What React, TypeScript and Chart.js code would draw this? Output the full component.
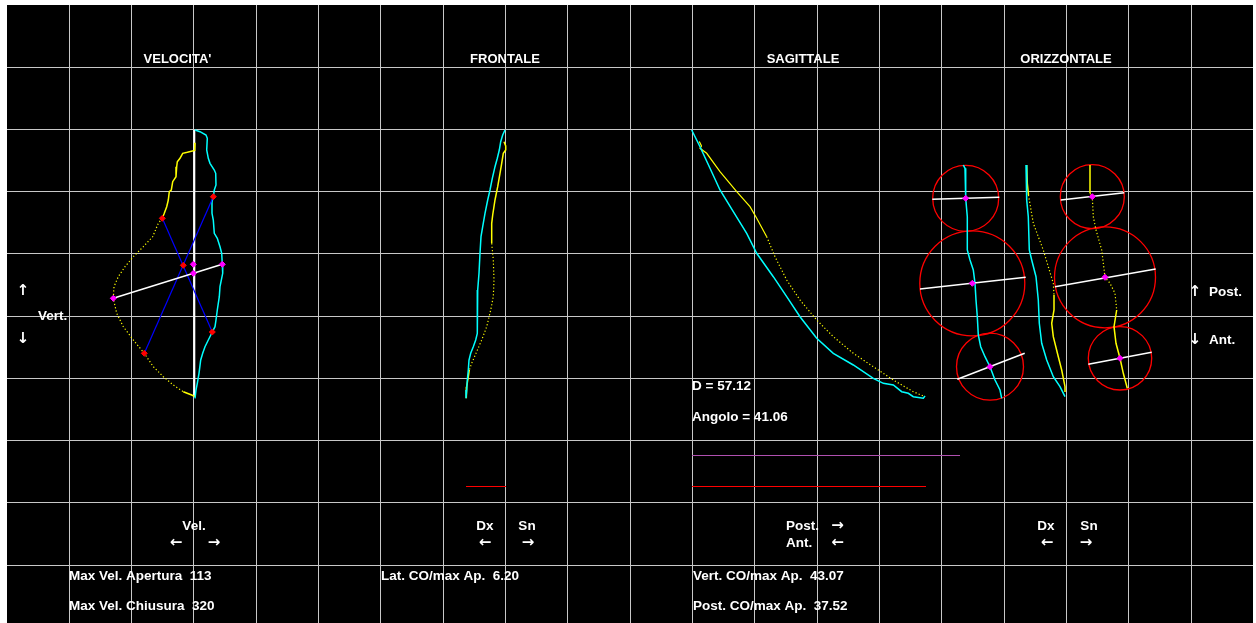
import React, { useEffect, useRef } from "react";
import { Chart, registerables } from "chart.js";

Chart.register(...registerables);

type P = [number, number];

// grid (screen units of the original plot)
const GRID_X = [69.33, 131.66, 193.99, 256.32, 318.65, 380.98, 443.31, 505.64, 567.97, 630.3, 692.63, 754.96, 817.29, 879.62, 941.95, 1004.28, 1066.61, 1128.94, 1191.27];
const GRID_Y = [67, 129.25, 191.5, 253.75, 316, 378.25, 440.5, 502.75, 565];

// ---- VELOCITA' panel ----
const VEL_AXIS: P[] = [[194.3, 130], [194.3, 397]];
const VEL_CYAN: P[] = [[195, 130], [200, 131.7], [206, 135], [207.3, 138.3], [206.7, 150], [208.3, 158.3], [210, 163.3], [214.3, 170], [215.7, 173.3], [216, 185], [214.3, 190], [213.3, 196.7], [212, 201.7], [212, 213.3], [213.3, 220], [214.3, 233.3], [217.3, 238.3], [220, 246.7], [221.7, 253.3], [222.3, 264.3], [222.7, 273.3], [220, 286.7], [219.3, 296.7], [217.3, 310], [216, 320], [215, 326.7], [212.3, 332], [208.3, 340], [205, 346.7], [202.7, 353.3], [200.7, 360], [199, 373.3], [197.3, 383.3], [196, 390], [195, 398.3]];
const VEL_YELLOW_SOLID: P[] = [[195, 142.7], [194.7, 150.5], [187.3, 152.3], [182.7, 153.3], [180, 158.3], [177.3, 161.7], [176.7, 166.7], [176, 176.7], [172.7, 181.7], [171.3, 190], [169.3, 191.7], [168.3, 200], [166.7, 206.7], [164.3, 213.3], [162.3, 218.3]];
const VEL_YELLOW_DOTTED: P[] = [[162.3, 218.3], [158.3, 223.3], [152.7, 236.7], [143.3, 246.7], [133.3, 256.7], [125, 266.7], [118.3, 276.7], [114, 286.7], [113.3, 298.3], [116.7, 313.3], [123.3, 326.7], [133.3, 340], [144.3, 353.3], [153.3, 366.7], [163.3, 376.7], [173.3, 385], [183.3, 391.7]];
const VEL_YELLOW_END: P[] = [[183.3, 391.7], [191.7, 395], [195, 396.7]];
const VEL_BLUE_A: P[] = [[162.3, 218.3], [212.3, 332]];
const VEL_BLUE_B: P[] = [[213.3, 196.7], [144.3, 353.3]];
const VEL_WHITE: P[] = [[113.3, 298.3], [222.3, 264.3]];
const VEL_RED_MARKS: P[] = [[162.3, 218.3], [212.3, 332], [213.3, 196.7], [144.3, 353.3], [183.3, 265.3]];
const VEL_MAGENTA_MARKS: P[] = [[113.3, 298.3], [222.3, 264.3], [193.3, 264.3], [193.3, 273.3]];

// ---- FRONTALE panel ----
const FRO_CYAN: P[] = [[505, 130], [502.7, 135], [500.7, 141.7], [499.3, 150], [497.3, 158.3], [495, 166.7], [492.3, 178.3], [490, 190], [487.7, 200], [485, 213.3], [482.7, 226.7], [481, 236.7], [480, 253.3], [479, 273.3], [477.7, 290], [477.3, 306.7], [477.3, 333.3], [475.7, 340], [473.3, 346.7], [470.7, 353.3], [469, 360], [468.3, 370], [467.3, 380], [466.7, 390], [466, 398.3]];
const FRO_YELLOW_SOLID: P[] = [[504, 141.7], [505.7, 146], [505.7, 150], [503.3, 153.3], [501.7, 163.3], [500, 173.3], [497.7, 186.7], [495, 200], [492.7, 215], [491.7, 223.3], [491.7, 243.3]];
const FRO_YELLOW_DOTTED: P[] = [[491.7, 243.3], [493.3, 260], [494, 280], [493.3, 296.7], [490.7, 310], [486.7, 326.7], [481.7, 340], [476, 353.3], [471.7, 363.3], [469.3, 370]];
const FRO_YELLOW_END: P[] = [[469.3, 370], [468.3, 376.7], [466.7, 386.7], [466.3, 398.3]];
const FRO_BAR: P[] = [[466, 486.5], [506, 486.5]];

// ---- SAGITTALE panel ----
const SAG_CYAN: P[] = [[691.7, 130], [700, 146.7], [710, 168.3], [720, 190], [733.3, 211.7], [746.7, 233.3], [756.7, 253.3], [773.3, 276.7], [786.7, 296.7], [800, 316.7], [816.7, 338.3], [833.3, 353.3], [853.3, 365], [873.3, 378.3], [883.3, 383.3], [893.3, 385], [901.7, 391.7], [908.3, 393.3], [913.3, 396.7], [923.3, 398.3], [925, 396]];
const SAG_YELLOW_SOLID: P[] = [[699.3, 141.5], [701.5, 146], [700, 148.3], [706.7, 153.3], [720, 171.7], [736.7, 191.7], [750, 206.7], [756.7, 218.3], [766.7, 236.7]];
const SAG_YELLOW_DOTTED: P[] = [[766.7, 236.7], [775, 256.7], [786.7, 280], [800, 300], [816.7, 320], [833.3, 336.7], [853.3, 353.3], [873.3, 366.7], [893.3, 380], [913.3, 391.7], [925, 396.7]];
const SAG_BAR_MAGENTA: P[] = [[692, 455.5], [960, 455.5]];
const SAG_BAR_RED: P[] = [[692, 486.5], [926, 486.5]];

// ---- ORIZZONTALE panel ----
const ORI_CYAN_LEFT: P[] = [[963.3, 165], [965, 168.3], [965.7, 183.3], [965.7, 198.3], [967.3, 216.7], [967.3, 250], [970, 260], [973.3, 270], [975, 283.3], [976, 300], [977.3, 316.7], [978.3, 335], [980.7, 346.7], [985, 356.7], [990, 366.7], [995, 380], [1000, 390], [1001.7, 398.3]];
const ORI_CYAN_MID: P[] = [[1026, 165], [1026.7, 183.3], [1026.7, 200], [1028.3, 216.7], [1029.3, 250], [1031.7, 260], [1036, 276.7], [1038.3, 300], [1039.3, 323.3], [1041.7, 343.3], [1046.7, 360], [1053.3, 376.7], [1060, 386.7], [1065, 396.7]];
const ORI_YELLOW_MID_SOLID: P[] = [[1026.7, 165], [1027.3, 183.3], [1028.5, 195]];
const ORI_YELLOW_MID_DOTTED: P[] = [[1028.5, 195], [1029.3, 200], [1033.3, 223.3], [1038.3, 236.7], [1043.3, 250], [1048.3, 266.7], [1053.3, 283.3], [1054, 295]];
const ORI_YELLOW_MID_END: P[] = [[1054, 295], [1054, 310], [1051.7, 323.3], [1053.3, 336.7], [1058.3, 356.7], [1061.7, 370], [1065, 386.7], [1065, 392]];
const ORI_YELLOW_RIGHT_SOLID: P[] = [[1090, 165], [1090, 193.3]];
const ORI_YELLOW_RIGHT_DOTTED: P[] = [[1090, 193.3], [1092.3, 196.7], [1093.3, 216.7], [1096, 230], [1101.7, 250], [1105, 277.3], [1110, 283.3], [1115, 293.3], [1116.7, 310]];
const ORI_YELLOW_RIGHT_END: P[] = [[1116.7, 310], [1114, 326.7], [1116, 343.3], [1120, 358.3], [1123.3, 373.3], [1127.3, 388.3]];
// circles: centre x, centre y, radius
const ORI_CIRCLES: [number, number, number][] = [[965.7, 198.3, 33], [972.3, 283.3, 52.5], [990, 366.7, 33.5], [1092.3, 196.7, 32], [1105, 277.3, 50.5], [1120, 358.3, 31.7]];
const ORI_DIAMETERS: P[][] = [
  [[932.3, 199.3], [999.3, 197.3]],
  [[920, 289], [1025.7, 277.3]],
  [[957.3, 379.3], [1024.7, 353.3]],
  [[1060.7, 200], [1124.3, 192.7]],
  [[1055, 286.7], [1155.7, 269]],
  [[1088.3, 364.3], [1151.7, 352.3]],
];

// ---- texts ----
type T = { t: string; x: number; y: number; a?: CanvasTextAlign };
const TITLES: T[] = [
  { t: "VELOCITA'", x: 177.5, y: 59, a: "center" },
  { t: "FRONTALE", x: 505, y: 59, a: "center" },
  { t: "SAGITTALE", x: 803, y: 59, a: "center" },
  { t: "ORIZZONTALE", x: 1066, y: 59, a: "center" },
];
const LABELS: T[] = [
  { t: "Vert.", x: 38, y: 316 },
  { t: "Post.", x: 1209, y: 292 },
  { t: "Ant.", x: 1209, y: 340 },
  { t: "Vel.", x: 194, y: 526, a: "center" },
  { t: "Dx", x: 485, y: 526, a: "center" },
  { t: "Sn", x: 527, y: 526, a: "center" },
  { t: "Post.", x: 786, y: 526 },
  { t: "Ant.", x: 786, y: 543 },
  { t: "Dx", x: 1046, y: 526, a: "center" },
  { t: "Sn", x: 1089, y: 526, a: "center" },
  { t: "D = 57.12", x: 692, y: 386 },
  { t: "Angolo = 41.06", x: 692, y: 417 },
  { t: "Max Vel. Apertura  113", x: 69, y: 576 },
  { t: "Max Vel. Chiusura  320", x: 69, y: 606 },
  { t: "Lat. CO/max Ap.  6.20", x: 381, y: 576 },
  { t: "Vert. CO/max Ap.  43.07", x: 693, y: 576 },
  { t: "Post. CO/max Ap.  37.52", x: 693, y: 606 },
];
const ARROWS: T[] = [
  { t: "↑", x: 23, y: 291, a: "center" },
  { t: "↓", x: 23, y: 339, a: "center" },
  { t: "↑", x: 1195, y: 292, a: "center" },
  { t: "↓", x: 1195, y: 340, a: "center" },
  { t: "←", x: 176, y: 543, a: "center" },
  { t: "→", x: 214, y: 543, a: "center" },
  { t: "←", x: 485, y: 543, a: "center" },
  { t: "→", x: 528, y: 543, a: "center" },
  { t: "→", x: 837.5, y: 526, a: "center" },
  { t: "←", x: 837.5, y: 543, a: "center" },
  { t: "←", x: 1047, y: 543, a: "center" },
  { t: "→", x: 1086, y: 543, a: "center" },
];

const CYAN = "#00ffff";
const YELLOW = "#ffff00";
const FONT = '"Liberation Sans", Arial, sans-serif';

const toXY = (pts: P[]) => pts.map(([x, y]) => ({ x, y }));

function line(pts: P[], color: string, width = 1.5, dash: number[] = []) {
  return {
    data: toXY(pts),
    showLine: true,
    borderColor: color,
    borderWidth: width,
    borderDash: dash,
    pointRadius: 0,
    fill: false,
    tension: 0,
  };
}

function marks(pts: P[], color: string) {
  return {
    data: toXY(pts),
    showLine: false,
    pointStyle: "rectRot",
    pointRadius: 3,
    pointBackgroundColor: color,
    pointBorderColor: color,
    pointBorderWidth: 1,
  };
}

const bgPlugin = {
  id: "bg",
  beforeDraw(chart: any) {
    const { ctx, chartArea: a } = chart;
    ctx.save();
    ctx.fillStyle = "#000";
    ctx.fillRect(a.left, a.top, a.right - a.left, a.bottom - a.top);
    ctx.restore();
  },
};

const textPlugin = {
  id: "texts",
  afterDatasetsDraw(chart: any) {
    const { ctx } = chart;
    const xs = chart.scales.x;
    const ys = chart.scales.y;
    ctx.save();
    ctx.fillStyle = "#ffffff";
    ctx.textBaseline = "middle";
    const draw = (arr: T[], font: string) => {
      ctx.font = font;
      arr.forEach((l) => {
        ctx.textAlign = l.a || "left";
        ctx.fillText(l.t, xs.getPixelForValue(l.x), ys.getPixelForValue(l.y));
      });
    };
    draw(TITLES, `bold 13px ${FONT}`);
    draw(LABELS, `bold 13.5px ${FONT}`);
    draw(ARROWS, `bold 15px "DejaVu Sans", sans-serif`);
    ctx.restore();
  },
};

export default function App() {
  const ref = useRef<HTMLCanvasElement>(null);
  useEffect(() => {
    if (!ref.current) return;
    const dotted = [1.2, 2.2];
    const datasets: any[] = [
      marks(VEL_RED_MARKS, "#ff0000"),
      marks(VEL_MAGENTA_MARKS, "#ff00ff"),
      marks(ORI_CIRCLES.map(([x, y]) => [x, y] as P), "#ff00ff"),
      line(VEL_WHITE, "#ffffff", 1.5),
      line(VEL_BLUE_A, "#0000ff", 1.2),
      line(VEL_BLUE_B, "#0000ff", 1.2),
      ...ORI_DIAMETERS.map((d) => line(d, "#ffffff", 1.5)),
      line(VEL_CYAN, CYAN, 1.5),
      line(VEL_YELLOW_SOLID, YELLOW, 1.5),
      line(VEL_YELLOW_DOTTED, YELLOW, 1.2, dotted),
      line(VEL_YELLOW_END, YELLOW, 1.5),
      line(VEL_AXIS, "#ffffff", 2),
      line(FRO_CYAN, CYAN, 1.5),
      line(FRO_YELLOW_SOLID, YELLOW, 1.5),
      line(FRO_YELLOW_DOTTED, YELLOW, 1.2, dotted),
      line(FRO_YELLOW_END, YELLOW, 1.5),
      line(FRO_BAR, "#ff0000", 1),
      line(SAG_CYAN, CYAN, 1.5),
      line(SAG_YELLOW_SOLID, YELLOW, 1.2),
      line(SAG_YELLOW_DOTTED, YELLOW, 1.2, dotted),
      line(SAG_BAR_MAGENTA, "#b050b0", 1),
      line(SAG_BAR_RED, "#ff0000", 1),
      line(ORI_CYAN_LEFT, CYAN, 1.5),
      line(ORI_CYAN_MID, CYAN, 1.5),
      line(ORI_YELLOW_MID_SOLID, YELLOW, 1.5),
      line(ORI_YELLOW_MID_DOTTED, YELLOW, 1.2, dotted),
      line(ORI_YELLOW_MID_END, YELLOW, 1.5),
      line(ORI_YELLOW_RIGHT_SOLID, YELLOW, 1.5),
      line(ORI_YELLOW_RIGHT_DOTTED, YELLOW, 1.2, dotted),
      line(ORI_YELLOW_RIGHT_END, YELLOW, 1.5),
      {
        data: toXY(ORI_CIRCLES.map(([x, y]) => [x, y] as P)),
        showLine: false,
        pointStyle: "circle",
        pointBackgroundColor: "rgba(0,0,0,0)",
        pointBorderColor: "#ff0000",
        pointBorderWidth: 1.3,
        pointRadius: (c: any) => {
          const row = ORI_CIRCLES[c.dataIndex];
          if (!row) return 0;
          const s = c.chart.scales.x;
          return s.getPixelForValue(row[0] + row[2]) - s.getPixelForValue(row[0]);
        },
      },
    ];
    const chart = new Chart(ref.current, {
      type: "scatter",
      data: { datasets },
      options: {
        animation: false,
        responsive: false,
        devicePixelRatio: 1,
        events: [],
        layout: { autoPadding: false, padding: { left: 7, top: 5, right: 3, bottom: 0 } },
        plugins: { legend: { display: false }, tooltip: { enabled: false } },
        scales: {
          x: {
            type: "linear",
            min: 7,
            max: 1253,
            ticks: { display: false },
            grid: { color: "#c8c8c8", lineWidth: 1, drawTicks: false },
            border: { display: false },
            afterFit: (s: any) => {
              s.height = 0;
            },
            afterBuildTicks: (s: any) => {
              s.ticks = GRID_X.map((v) => ({ value: v }));
            },
          },
          y: {
            type: "linear",
            min: 5,
            max: 623,
            reverse: true,
            ticks: { display: false },
            grid: { color: "#c8c8c8", lineWidth: 1, drawTicks: false },
            border: { display: false },
            afterFit: (s: any) => {
              s.width = 0;
            },
            afterBuildTicks: (s: any) => {
              s.ticks = GRID_Y.map((v) => ({ value: v }));
            },
          },
        },
      } as any,
      plugins: [bgPlugin, textPlugin],
    });
    return () => chart.destroy();
  }, []);
  return (
    <div style={{ position: "fixed", left: 0, top: 0, width: 1256, height: 623, background: "#fff" }}>
      <canvas ref={ref} width={1256} height={623} style={{ display: "block" }} />
    </div>
  );
}
